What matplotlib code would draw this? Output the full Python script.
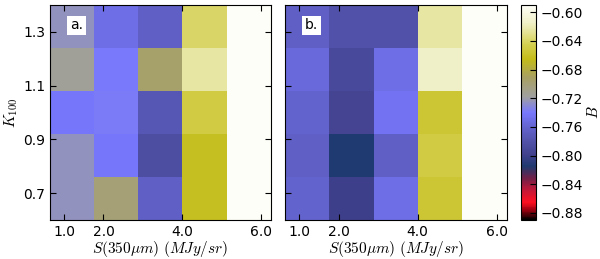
import numpy as np
import matplotlib
matplotlib.use("Agg")
import matplotlib.pyplot as plt
from matplotlib.colors import LinearSegmentedColormap, Normalize

plt.rcParams["mathtext.fontset"] = "cm"
plt.rcParams["font.size"] = 10

# B values, rows from low K100 (bottom) to high K100 (top), columns by S(350um)
B_a = [
    [-0.725, -0.700, -0.765, -0.662, -0.590],
    [-0.725, -0.742, -0.785, -0.662, -0.590],
    [-0.742, -0.738, -0.775, -0.650, -0.590],
    [-0.715, -0.740, -0.695, -0.625, -0.590],
    [-0.725, -0.750, -0.765, -0.640, -0.590],
]
B_b = [
    [-0.760, -0.800, -0.750, -0.655, -0.590],
    [-0.765, -0.815, -0.765, -0.650, -0.590],
    [-0.760, -0.795, -0.745, -0.655, -0.590],
    [-0.755, -0.790, -0.750, -0.615, -0.590],
    [-0.765, -0.780, -0.780, -0.625, -0.590],
]
panel_labels = ["a.", "b."]
x_ticks = [1.0, 2.0, 4.0, 6.0]
y_ticks = [0.7, 0.9, 1.1, 1.3]
cbar_ticks = [-0.60, -0.64, -0.68, -0.72, -0.76, -0.80, -0.84, -0.88]

vmin, vmax = -0.89, -0.59
S_range = (0.64, 6.26)
K_range = (0.6, 1.4)

# custom colour map: black -> red -> navy -> blue -> grey -> yellow -> white
nodes = [
    (-0.890, "#000000"),
    (-0.876, "#a00010"),
    (-0.866, "#ff1020"),
    (-0.848, "#c01838"),
    (-0.832, "#702048"),
    (-0.815, "#1e3a70"),
    (-0.800, "#40408c"),
    (-0.780, "#5252aa"),
    (-0.760, "#6464d0"),
    (-0.740, "#7878ff"),
    (-0.718, "#a0a0a0"),
    (-0.690, "#a8a060"),
    (-0.665, "#c4bc18"),
    (-0.645, "#d4d050"),
    (-0.615, "#f0f0c8"),
    (-0.590, "#fefef8"),
]
cmap = LinearSegmentedColormap.from_list(
    "bcmap", [((v - vmin) / (vmax - vmin), c) for v, c in nodes])
norm = Normalize(vmin=vmin, vmax=vmax)

fig = plt.figure(figsize=(6.0, 2.59), dpi=100)
ax_a = fig.add_axes([50 / 600, 39 / 259, 221 / 600, 215 / 259])
ax_b = fig.add_axes([285 / 600, 39 / 259, 222 / 600, 215 / 259])
cax = fig.add_axes([521 / 600, 39 / 259, 15 / 600, 215 / 259])

for ax, data, lab in zip([ax_a, ax_b], [B_a, B_b], panel_labels):
    im = ax.imshow(np.array(data), cmap=cmap, norm=norm, origin="lower",
                   extent=[S_range[0], S_range[1], K_range[0], K_range[1]],
                   aspect="auto", interpolation="nearest")
    ax.set_xticks(x_ticks)
    ax.set_xticklabels(["%.1f" % t for t in x_ticks])
    ax.set_yticks(y_ticks)
    ax.tick_params(direction="in", top=True, right=True, length=4, labelsize=10)
    ax.set_xlabel(r"$S(350\mu m)\ (MJy/sr)$", fontsize=11, labelpad=0)
    ax.text(0.09, 0.905, lab, transform=ax.transAxes, fontsize=10,
            va="center", ha="left",
            bbox=dict(facecolor="white", edgecolor="none", pad=2))

ax_a.set_ylabel(r"$K_{100}$", fontsize=11, labelpad=2)
ax_b.set_yticklabels([])

cb = fig.colorbar(im, cax=cax, ticks=cbar_ticks)
cb.ax.set_yticklabels(["\u2212%.2f" % abs(t) for t in cbar_ticks])
cb.ax.tick_params(direction="in", length=4, labelsize=10)
cb.set_label(r"$B$", fontsize=11, labelpad=2)

fig.savefig("out.png", dpi=100)
